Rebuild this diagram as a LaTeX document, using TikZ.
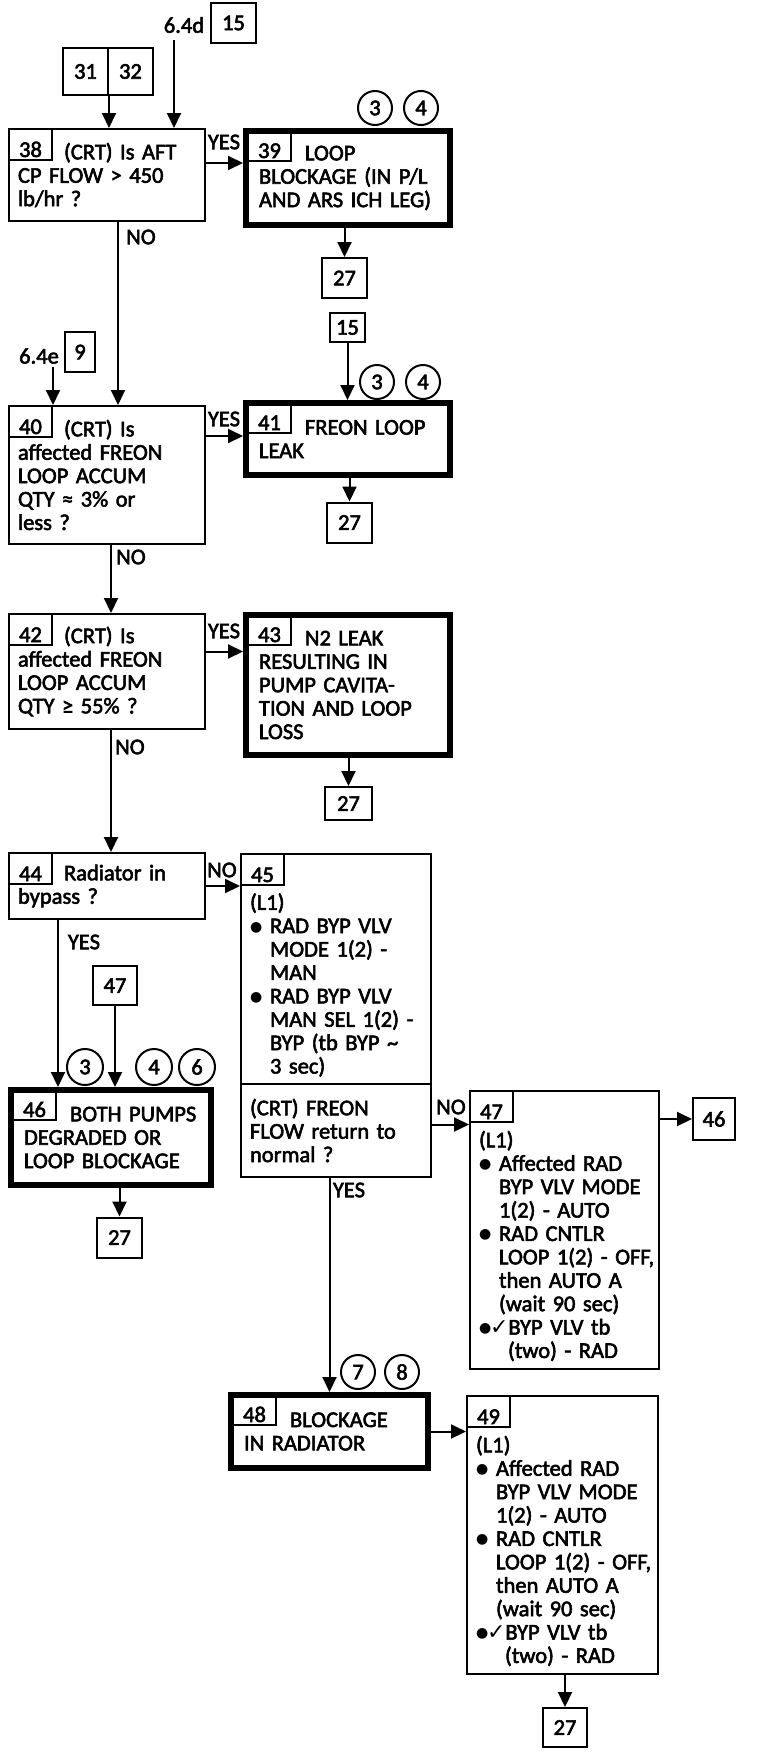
\documentclass[tikz,border=0pt]{standalone}
\usepackage{fontspec}
\setmainfont{Carlito}[FakeBold=2.5]
\newfontfamily\dejavu{DejaVu Sans}
\usetikzlibrary{arrows.meta}

\newcommand{\stepfont}{\fontsize{22.5}{23.4}\selectfont}
\newcommand{\numgap}{\hspace*{46pt}}
\newcommand{\numline}{\rule{0pt}{25pt}}
\newcommand{\itemgap}{\hspace*{20pt}}
\newcommand{\itemdot}{\makebox[20pt][l]{\raisebox{2pt}{\dejavu\fontsize{14}{14}\selectfont ●}}}
\newcommand{\checkdot}{\makebox[11pt][l]{\raisebox{2pt}{\dejavu\fontsize{14}{14}\selectfont ●}}{\dejavu\fontsize{22}{22}\selectfont ✓}}

\begin{document}
\begin{tikzpicture}[x=1pt,y=-1pt,
  stepbox/.style={draw, line width=2pt, anchor=north west, align=left,
    inner xsep=9pt, inner ysep=0pt, font=\stepfont},
  endbox/.style={stepbox, line width=6pt, inner xsep=13pt},
  numbox/.style={draw, line width=2pt, anchor=north west, minimum width=43pt,
    minimum height=31pt, inner sep=0pt, text height=27pt, text depth=2pt,
    font=\stepfont},
  endnum/.style={numbox, minimum height=28pt, text height=24pt},
  refbox/.style={draw, line width=2pt, minimum width=45pt, minimum height=40pt,
    inner sep=0pt, font=\stepfont},
  tag/.style={draw, circle, line width=2pt, minimum size=34pt, inner sep=0pt,
    font=\stepfont},
  lab/.style={inner sep=0pt, font=\stepfont},
  flow/.style={line width=2pt, -{Triangle[length=15pt,width=14pt]}}]

\useasboundingbox (0,0) rectangle (764,1756);

% Entry references
\node[refbox, minimum height=47pt] (r31) at (85.5,71.5) {31};
\node[refbox, minimum height=47pt] (r32) at (130.5,71.5) {32};
\node[lab] (l64d) at (184,25) {6.4d};
\node[refbox] (r15a) at (233.5,23) {15};
\coordinate (s64d) at (174,40);

% Step 38
\node[stepbox, text width=178pt, minimum height=92pt] (b38) at (8,128)
  {\numgap(CRT) Is AFT\\CP FLOW > 450\\lb/hr ?};
\node[numbox] (n38) at (b38.north west) {38};
\node[lab] (y38) at (224,142) {YES};
\node[lab] (o38) at (141,237) {NO};

% Step 39
\node[endbox, text width=178pt, minimum height=94pt] (b39) at (243,128)
  {\numgap LOOP\\BLOCKAGE (IN P/L\\AND ARS ICH LEG)};
\node[endnum] (n39) at ([shift={(4pt,-4pt)}]b39.north west) {39};
\node[tag] (c39a) at (375,108) {3};
\node[tag] (c39b) at (421,108) {4};
\node[refbox] (r27a) at (344.5,278) {27};

% Step 40
\node[lab] (l64e) at (39,356) {6.4e};
\node[refbox, minimum width=30pt] (r9) at (80,352) {9};
\coordinate (s64e) at (53,367);
\node[stepbox, text width=178pt, minimum height=138pt] (b40) at (8,405)
  {\numgap(CRT) Is\\affected FREON\\LOOP ACCUM\\QTY ≈ 3\% or\\less ?};
\node[numbox] (n40) at (b40.north west) {40};
\node[lab] (y40) at (224,419) {YES};
\node[lab] (o40) at (131,557) {NO};

% Step 41
\node[refbox, minimum width=35pt, minimum height=29pt] (r15b) at (347.5,327.5) {15};
\node[endbox, text width=178pt, minimum height=72pt] (b41) at (243,400)
  {\numgap FREON LOOP\\LEAK};
\node[endnum] (n41) at ([shift={(4pt,-4pt)}]b41.north west) {41};
\node[tag] (c41a) at (377,382) {3};
\node[tag] (c41b) at (423,382) {4};
\node[refbox] (r27b) at (349.5,522.5) {27};

% Step 42
\node[stepbox, text width=178pt, minimum height=115pt] (b42) at (8,613)
  {\numgap(CRT) Is\\affected FREON\\LOOP ACCUM\\QTY ≥ 55\% ?};
\node[numbox] (n42) at (b42.north west) {42};
\node[lab] (y42) at (224,631) {YES};
\node[lab] (o42) at (130,747) {NO};

% Step 43
\node[endbox, text width=178pt, minimum height=140pt] (b43) at (243,612)
  {\numgap N2 LEAK\\RESULTING IN\\PUMP CAVITA-\\TION AND LOOP\\LOSS};
\node[endnum] (n43) at ([shift={(4pt,-4pt)}]b43.north west) {43};
\node[refbox, minimum width=47pt, minimum height=33pt] (r27c) at (348.5,803.5) {27};

% Step 44
\node[stepbox, text width=178pt, minimum height=66pt] (b44) at (8,852)
  {\numgap Radiator in\\bypass ?};
\node[numbox] (n44) at (b44.north west) {44};
\node[lab] (o44) at (222,870) {NO};
\node[lab] (y44) at (84,942) {YES};

% Step 45
\node[stepbox, text width=172pt, minimum height=230pt] (b45) at (240,853)
  {\numline\\(L1)\\
   \itemdot RAD BYP VLV\\\itemgap MODE 1(2) -\\\itemgap MAN\\
   \itemdot RAD BYP VLV\\\itemgap \mbox{MAN SEL 1(2) -}\\\itemgap BYP (tb BYP \textasciitilde\\
   \itemgap 3 sec)};
\node[numbox] (n45) at (b45.north west) {45};
\node[stepbox, text width=172pt, minimum height=93pt] (q45) at (240,1083)
  {(CRT) FREON\\FLOW return to\\normal ?};
\node[lab] (o45) at (451,1107) {NO};
\node[lab] (y45) at (349,1190) {YES};

% Step 46
\node[refbox, minimum width=44pt, minimum height=39pt] (r47) at (115,985.5) {47};
\node[endbox, text width=174pt, minimum height=95pt] (b46) at (8,1087)
  {\numgap BOTH PUMPS\\DEGRADED OR\\LOOP BLOCKAGE};
\node[endnum] (n46) at ([shift={(4pt,-4pt)}]b46.north west) {46};
\node[tag, minimum size=36pt] (c46a) at (85,1067) {3};
\node[tag, minimum size=36pt] (c46b) at (154,1067) {4};
\node[tag, minimum size=36pt] (c46c) at (197,1067) {6};
\node[refbox] (r27d) at (119.5,1237.5) {27};

% Step 47
\node[stepbox, text width=171pt, minimum height=278pt] (b47) at (469,1090)
  {\numline\\(L1)\\
   \itemdot Affected RAD\\\itemgap BYP VLV MODE\\\itemgap 1(2) - AUTO\\
   \itemdot RAD CNTLR\\\itemgap \mbox{LOOP 1(2) - OFF,}\\\itemgap then AUTO A\\
   \itemgap (wait 90 sec)\\
   \checkdot BYP VLV tb\\\hspace*{29pt}(two) - RAD};
\node[numbox] (n47) at (b47.north west) {47};
\node[refbox, minimum width=42pt, minimum height=42pt] (r46) at (714,1119) {46};

% Step 48
\node[tag] (c48a) at (358,1372) {7};
\node[tag] (c48b) at (402,1372) {8};
\node[endbox, text width=171pt, minimum height=73pt] (b48) at (228,1392)
  {\numgap BLOCKAGE\\IN RADIATOR};
\node[endnum] (n48) at ([shift={(4pt,-4pt)}]b48.north west) {48};

% Step 49
\node[stepbox, text width=173pt, minimum height=278pt] (b49) at (466,1395)
  {\numline\\(L1)\\
   \itemdot Affected RAD\\\itemgap BYP VLV MODE\\\itemgap 1(2) - AUTO\\
   \itemdot RAD CNTLR\\\itemgap \mbox{LOOP 1(2) - OFF,}\\\itemgap then AUTO A\\
   \itemgap (wait 90 sec)\\
   \checkdot BYP VLV tb\\\hspace*{29pt}(two) - RAD};
\node[numbox] (n49) at (b49.north west) {49};
\node[refbox, minimum width=44pt, minimum height=39pt] (r27e) at (565,1727.5) {27};

% Connectors
\draw[flow] (r31.south east) -- (r31.south east |- b38.north);
\draw[flow] (s64d) -- (s64d |- b38.north);
\draw[flow] ([yshift=12pt]b38.east) -- ([yshift=12pt]b38.east -| b39.west);
\draw[flow] (b39.south -| r27a) -- (r27a.north);
\draw[flow] ([xshift=11pt]b38.south) -- ([xshift=11pt]b38.south |- b40.north);
\draw[flow] (s64e) -- (s64e |- b40.north);
\draw[flow] ([yshift=39pt]b40.east) -- ([yshift=39pt]b40.east -| b41.west);
\draw[flow] (r15b.south) -- (r15b.south |- b41.north);
\draw[flow] (b41.south -| r27b) -- (r27b.north);
\draw[flow] ([xshift=4pt]b40.south) -- ([xshift=4pt]b40.south |- b42.north);
\draw[flow] ([yshift=20pt]b42.east) -- ([yshift=20pt]b42.east -| b43.west);
\draw[flow] (b43.south -| r27c) -- (r27c.north);
\draw[flow] ([xshift=4pt]b42.south) -- ([xshift=4pt]b42.south |- b44.north);
\draw[flow] (b44.east) -- (b44.east -| b45.west);
\draw[flow] ([xshift=-49pt]b44.south) -- ([xshift=-49pt]b44.south |- b46.north);
\draw[flow] (r47.south) -- (r47.south |- b46.north);
\draw[flow] (b46.south -| r27d) -- (r27d.north);
\draw[flow] ([yshift=6pt]q45.east) -- ([yshift=6pt]q45.east -| b47.west);
\draw[flow] (r46.west -| b47.east) -- (r46.west);
\draw[flow] (q45.south -| b48.north) -- (b48.north);
\draw[flow] (b48.east) -- (b48.east -| b49.west);
\draw[flow] (b49.south -| r27e) -- (r27e.north);

\end{tikzpicture}
\end{document}
